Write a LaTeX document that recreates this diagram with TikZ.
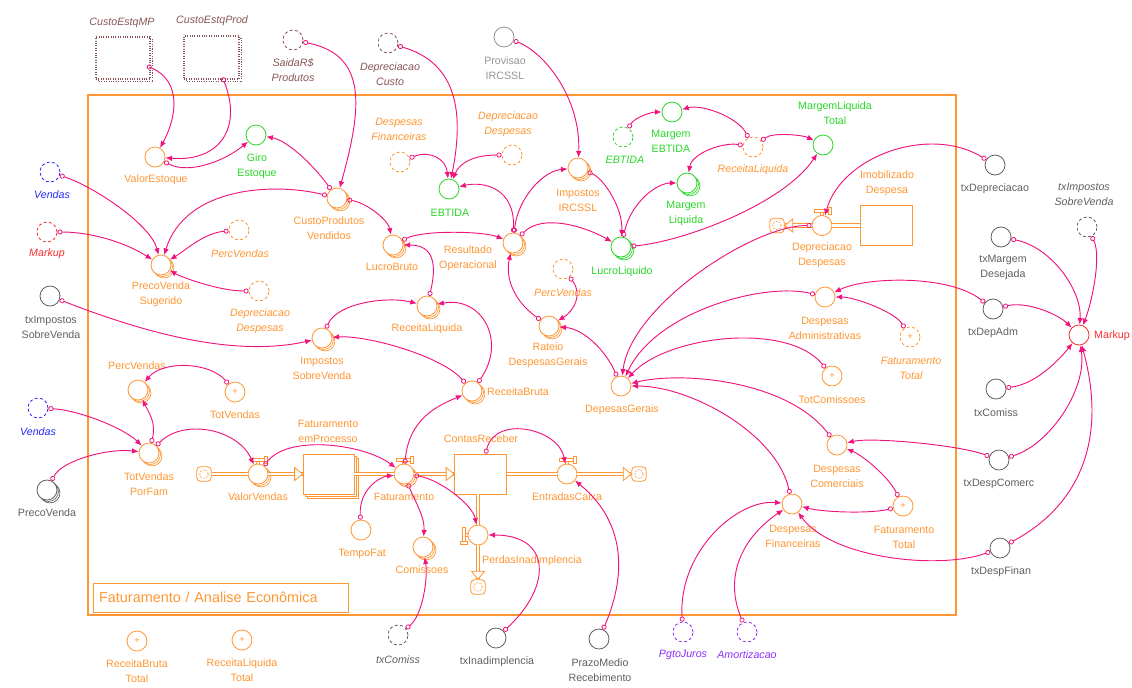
\documentclass[tikz,border=0pt]{standalone}
\usepackage{fontspec}
\setmainfont{Liberation Sans}
\usetikzlibrary{arrows.meta,shadows,calc}
\definecolor{orc}{RGB}{255,150,50}
\definecolor{grc}{RGB}{40,215,40}
\definecolor{lnk}{RGB}{240,20,125}
\definecolor{gyc}{RGB}{95,95,95}
\definecolor{lgy}{RGB}{150,150,150}
\definecolor{brc}{RGB}{135,85,85}
\definecolor{blc}{RGB}{40,40,250}
\definecolor{rdc}{RGB}{250,45,45}
\definecolor{ppc}{RGB}{140,45,250}
\newcommand{\lblfont}{\fontsize{8}{11.25}\selectfont}
% cap drawn on top of a horizontal flow valve
\newcommand{\valvecap}[1]{%
  \draw[orc, line width=0.5pt] ($(#1.center)+(-1.5,-10)$) -- ++(0,-3) ($(#1.center)+(1.5,-10)$) -- ++(0,-3);
  \draw[orc, line width=0.5pt, fill=white] ($(#1.center)+(-8,-16)$) rectangle ($(#1.center)+(6,-13)$);
  \draw[orc, line width=0.5pt, fill=white] ($(#1.center)+(6,-18)$) rectangle ($(#1.center)+(9,-11)$);}
\tikzset{
  var/.style={circle, draw=#1, fill=white, minimum size=15pt, inner sep=0pt, line width=0.6pt},
  ghost/.style={var=#1, dash pattern=on 2.2pt off 1.8pt},
  multi/.style={copy shadow={shadow xshift=2.2pt, shadow yshift=-2.2pt, draw=#1, fill=white, line width=0.5pt},
                copy shadow={shadow xshift=1.1pt, shadow yshift=-1.1pt, draw=#1, fill=white, line width=0.5pt}},
  plus/.style={text=#1, font=\fontsize{7}{7}\selectfont},
  lab/.style={text=#1, font=\lblfont, align=center, inner sep=0pt},
  ilab/.style={lab=#1, font=\lblfont\itshape},
  lk/.style={draw=lnk, line width=0.7pt, {Circle[open, length=3.8pt, width=3.8pt, line width=0.6pt]}-{Latex[length=5pt, width=4.2pt]}},
  pipe/.style={draw=orc, double=white, double distance=2.2pt, line width=0.55pt},
  pipehead/.style={draw=orc, fill=white, line width=0.6pt},
  stock/.style={rectangle, draw=orc, fill=white, line width=0.6pt, inner sep=0pt},
  mstock/.style={copy shadow={shadow xshift=3pt, shadow yshift=-3pt, draw=orc, fill=white, line width=0.5pt},
                 copy shadow={shadow xshift=1.5pt, shadow yshift=-1.5pt, draw=orc, fill=white, line width=0.5pt}},
  dotbox/.style={rectangle, draw=brc, densely dotted, fill=white, line width=0.8pt, inner sep=0pt,
                 copy shadow={shadow xshift=2.2pt, shadow yshift=-2.2pt, draw=brc, fill=white, densely dotted, line width=0.8pt}},
  sink/.style={rectangle, draw=orc, fill=white, rounded corners=3pt, minimum size=11pt, inner sep=0pt, line width=0.6pt,
               path picture={\draw[orc, line width=0.5pt, dash pattern=on 1.3pt off 1pt] (path picture bounding box.center) circle (3.2pt);}},
}
\begin{document}
\begin{tikzpicture}[x=0.75pt,y=-0.75pt]
\useasboundingbox (0,0) rectangle (1132,687);

% sector frame and its title
\draw[orc, line width=0.8pt] (88,95) rectangle (956,615);
\node[draw=orc, line width=0.6pt, minimum width=191.25pt, minimum height=21.75pt, text width=182pt, inner xsep=4.5pt,
      align=left, text=orc, font=\fontsize{10.8}{12}\selectfont] (title) at (220.5,597.5) {Faturamento / Analise Econômica};

% inventory cost levels from another view
\node[dotbox, minimum width=40.5pt, minimum height=31.5pt] (cemp) at (123,58) {};
\node[ilab=brc] (cemp-l) at (122,23) {CustoEstqMP};
\node[dotbox, minimum width=41.25pt, minimum height=32.25pt] (cepr) at (211.5,57.5) {};
\node[ilab=brc] (cepr-l) at (212,21) {CustoEstqProd};
\node[ghost=brc] (saida) at (293,40) {};
\node[ilab=brc] (saida-l) at (293,70.5) {SaidaR\$\\Produtos};
\node[ghost=brc] (depcusto) at (388,43) {};
\node[ilab=brc] (depcusto-l) at (390,74.5) {Depreciacao\\Custo};
\node[var=lgy] (prov) at (504,37) {};
\node[lab=lgy] (prov-l) at (505,68.5) {Provisao\\IRCSSL};

% stock value, sales price
\node[var=orc] (valest) at (155,157) {};
\node[lab=orc] (valest-l) at (156,180) {ValorEstoque};
\node[var=grc] (giro) at (256,135) {};
\node[lab=grc] (giro-l) at (257,166.5) {Giro\\Estoque};
\node[var=orc, multi=orc] (cpv) at (337,198) {};
\node[lab=orc] (cpv-l) at (329,228) {CustoProdutos\\Vendidos};
\node[var=orc, multi=orc] (pvs) at (161,265) {};
\node[lab=orc] (pvs-l) at (161,294.5) {PrecoVenda\\Sugerido};
\node[ghost=orc] (percv1) at (239,230) {};
\node[ilab=orc] (percv1-l) at (240,254) {PercVendas};
\node[ghost=orc] (deprd1) at (259,291) {};
\node[ilab=orc] (deprd1-l) at (260,321) {Depreciacao\\Despesas};
\node[ghost=blc] (vendas1) at (50,172) {};
\node[ilab=blc] (vendas1-l) at (52,195) {Vendas};
\node[ghost=rdc] (markup1) at (47,232) {};
\node[ilab=rdc] (markup1-l) at (47,254) {Markup};
\node[var=gyc] (txisv1) at (50,296) {};
\node[lab=gyc] (txisv1-l) at (51,327.5) {txImpostos\\SobreVenda};

% results
\node[var=orc, multi=orc] (lb) at (393,245) {};
\node[lab=orc] (lb-l) at (392,266.5) {LucroBruto};
\node[var=orc, multi=orc] (ro) at (513,243) {};
\node[lab=orc] (ro-l) at (468,258.5) {Resultado\\Operacional};
\node[var=grc] (ebtida) at (449,189) {};
\node[lab=grc] (ebtida-l) at (450,213) {EBTIDA};
\node[ghost=orc] (despfin1) at (400,162) {};
\node[ilab=orc] (despfin1-l) at (399,129) {Despesas\\Financeiras};
\node[ghost=orc] (deprd2) at (512,155) {};
\node[ilab=orc] (deprd2-l) at (508,124) {Depreciacao\\Despesas};
\node[var=orc, multi=orc] (ircssl) at (578,168) {};
\node[lab=orc] (ircssl-l) at (578,200) {Impostos\\IRCSSL};
\node[ghost=grc] (ebtida2) at (623,137) {};
\node[ilab=grc] (ebtida2-l) at (625,160) {EBTIDA};
\node[var=grc] (mebtida) at (672,112) {};
\node[lab=grc] (mebtida-l) at (671,141.5) {Margem\\EBTIDA};
\node[var=grc, multi=grc] (mliq) at (687,183) {};
\node[lab=grc] (mliq-l) at (686,213.5) {Margem\\Liquida};
\node[ghost=orc] (recliq1) at (753,147) {};
\node[ilab=orc] (recliq1-l) at (753,169.5) {ReceitaLiquida};
\node[var=grc] (mltot) at (823,145) {};
\node[lab=grc] (mltot-l) at (835,113.5) {MargemLiquida\\Total};
\node[var=grc, multi=grc] (ll) at (621,247) {};
\node[lab=grc] (ll-l) at (622,272) {LucroLiquido};

% depreciation of fixed assets
\node[var=orc] (deprdv) at (822,225.5) {};
\node[lab=orc] (deprdv-l) at (822,255) {Depreciacao\\Despesas};
\node[stock, minimum width=39pt, minimum height=30pt] (imob) at (886,225.5) {};
\node[lab=orc] (imob-l) at (887,183) {Imobilizado\\Despesa};
\node[sink] (snk3) at (777,225.5) {};

% expenses
\node[var=orc] (despadm) at (825,297) {};
\node[lab=orc] (despadm-l) at (825,328.5) {Despesas\\Administrativas};
\node[ghost=orc, plus=orc] (fattot1) at (910,337) {+};
\node[ilab=orc] (fattot1-l) at (911,368.5) {Faturamento\\Total};
\node[var=orc, plus=orc] (totcom) at (832,376) {+};
\node[lab=orc] (totcom-l) at (832,399.5) {TotComissoes};
\node[var=orc] (depger) at (621,386) {};
\node[lab=orc] (depger-l) at (622,410) {DepesasGerais};
\node[var=orc, multi=orc] (rateio) at (549,326) {};
\node[lab=orc] (rateio-l) at (548,355.5) {Rateio\\DespesasGerais};
\node[ghost=orc] (percv2) at (563,269) {};
\node[ilab=orc] (percv2-l) at (563,293) {PercVendas};
\node[var=orc] (despcom) at (837,445) {};
\node[lab=orc] (despcom-l) at (837,476.5) {Despesas\\Comerciais};
\node[var=orc, plus=orc] (fattot2) at (903,506) {+};
\node[lab=orc] (fattot2-l) at (904,537) {Faturamento\\Total};
\node[var=orc] (despfin2) at (792,504) {};
\node[lab=orc] (despfin2-l) at (793,536) {Despesas\\Financeiras};

% revenue
\node[var=orc, multi=orc] (rl) at (427,306) {};
\node[lab=orc] (rl-l) at (427,329) {ReceitaLiquida};
\node[var=orc, multi=orc] (rb) at (472,391) {};
\node[lab=orc] (rb-l) at (518,392) {ReceitaBruta};
\node[var=orc, multi=orc] (isv) at (322,338) {};
\node[lab=orc] (isv-l) at (322,368.5) {Impostos\\SobreVenda};
\node[var=orc, multi=orc] (percv3) at (138,390) {};
\node[lab=orc] (percv3-l) at (137,366) {PercVendas};
\node[var=orc, plus=orc] (totv) at (235,392) {+};
\node[lab=orc] (totv-l) at (235,415) {TotVendas};
\node[ghost=blc] (vendas2) at (38,408) {};
\node[ilab=blc] (vendas2-l) at (38,432) {Vendas};
\node[var=orc, multi=orc] (tvpf) at (149,453) {};
\node[lab=orc] (tvpf-l) at (149,484.5) {TotVendas\\PorFam};
\node[var=gyc, multi=gyc] (pv) at (47,490) {};
\node[lab=gyc] (pv-l) at (47,513) {PrecoVenda};

% billing chain
\node[sink] (snk1) at (204,474) {};
\node[var=orc, multi=orc] (vv) at (258,474) {};
\node[lab=orc] (vv-l) at (258,497) {ValorVendas};
\node[stock, mstock, minimum width=38.25pt, minimum height=30pt] (fep) at (328.5,474) {};
\node[lab=orc] (fep-l) at (328,431.5) {Faturamento\\emProcesso};
\node[var=orc, multi=orc] (fat) at (404,474) {};
\node[lab=orc] (fat-l) at (404,497) {Faturamento};
\node[stock, minimum width=39pt, minimum height=30pt] (cr) at (480.5,474) {};
\node[lab=orc] (cr-l) at (481,439) {ContasReceber};
\node[var=orc] (ec) at (567,474) {};
\node[lab=orc] (ec-l) at (567,497) {EntradasCaixa};
\node[sink] (snk2) at (639,474) {};
\node[var=orc] (pi) at (478,535) {};
\node[lab=orc] (pi-l) at (532,561) {PerdasInadimplencia};
\node[sink] (snk4) at (478,587) {};
\node[var=orc] (tempofat) at (361,530) {};
\node[lab=orc] (tempofat-l) at (362,553.5) {TempoFat};
\node[var=orc, multi=orc] (comis) at (423,547) {};
\node[lab=orc] (comis-l) at (422,569.5) {Comissoes};

% below the frame
\node[var=orc, plus=orc] (rbt) at (137,641) {+};
\node[lab=orc] (rbt-l) at (137,671.5) {ReceitaBruta\\Total};
\node[var=orc, plus=orc] (rlt) at (242,640) {+};
\node[lab=orc] (rlt-l) at (242,670.5) {ReceitaLiquida\\Total};
\node[ghost=gyc] (txcom1) at (398,635) {};
\node[ilab=gyc] (txcom1-l) at (398,659.5) {txComiss};
\node[var=gyc] (txinad) at (496,638) {};
\node[lab=gyc] (txinad-l) at (497,661.5) {txInadimplencia};
\node[var=gyc] (pmr) at (599,639) {};
\node[lab=gyc] (pmr-l) at (600,670.5) {PrazoMedio\\Recebimento};
\node[ghost=ppc] (pgto) at (683,632) {};
\node[ilab=ppc] (pgto-l) at (683,654.5) {PgtoJuros};
\node[ghost=ppc] (amort) at (747,632) {};
\node[ilab=ppc] (amort-l) at (747,654.5) {Amortizacao};

% rates on the right
\node[var=gyc] (txdep) at (995,165) {};
\node[lab=gyc] (txdep-l) at (995,189) {txDepreciacao};
\node[ghost=gyc] (txisv2) at (1087,227) {};
\node[ilab=gyc] (txisv2-l) at (1084,194.5) {txImpostos\\SobreVenda};
\node[var=gyc] (txmd) at (1001,237) {};
\node[lab=gyc] (txmd-l) at (1003,267) {txMargem\\Desejada};
\node[var=gyc] (txda) at (993,309) {};
\node[lab=gyc] (txda-l) at (993,332.5) {txDepAdm};
\node[var=rdc] (markup2) at (1079,335) {};
\node[lab=rdc] (markup2-l) at (1112,336) {Markup};
\node[var=gyc] (txcom2) at (996,389) {};
\node[lab=gyc] (txcom2-l) at (996,412.5) {txComiss};
\node[var=gyc] (txdc) at (999,460) {};
\node[lab=gyc] (txdc-l) at (999,484) {txDespComerc};
\node[var=gyc] (txdf) at (1000,548) {};
\node[lab=gyc] (txdf-l) at (1001,572) {txDespFinan};

% flow pipes
\draw[pipe] (snk1) -- (vv);
\draw[pipe] (vv) -- (fep);
\draw[pipehead] (fep.west) -- ++(-8,-6.5) -- ++(0,13) -- cycle;
\draw[pipe] (fep) -- (fat);
\draw[pipe] (fat) -- (cr);
\draw[pipehead] (cr.west) -- ++(-8,-6.5) -- ++(0,13) -- cycle;
\draw[pipe] (cr) -- (ec);
\draw[pipe] (ec) -- (snk2);
\draw[pipehead] (snk2.west) -- ++(-8,-6.5) -- ++(0,13) -- cycle;
\draw[pipe] (pi |- cr.south) -- (pi);
\draw[pipe] (pi) -- (snk4);
\draw[pipehead] (snk4.north) -- ++(-6.5,-8) -- ++(13,0) -- cycle;
\draw[pipe] (imob) -- (deprdv);
\draw[pipe] (deprdv) -- (snk3);
\draw[pipehead] (snk3.east) -- ++(8,-6.5) -- ++(0,13) -- cycle;

% valve caps
\valvecap{vv}
\valvecap{fat}
\valvecap{ec}
\valvecap{deprdv}
\draw[orc, line width=0.5pt] ($(pi.center)+(-10,-1.5)$) -- ++(-3,0) ($(pi.center)+(-10,1.5)$) -- ++(-3,0);
\draw[orc, line width=0.5pt, fill=white] ($(pi.center)+(-16,-8)$) rectangle ($(pi.center)+(-13,6)$);
\draw[orc, line width=0.5pt, fill=white] ($(pi.center)+(-18,6)$) rectangle ($(pi.center)+(-11,9)$);

% causal links
\draw[lk] ($(cemp.center)+(24,8)$) .. controls +(35,15) and +(22,-40) .. (valest);
\draw[lk] ($(cepr.center)+(11,20)$) .. controls +(20,50) and +(65,5) .. (valest);
\draw[lk] (valest) .. controls +(35,18) and +(-30,25) .. (giro);
\draw[lk] (cpv) .. controls +(-25,-35) and +(30,5) .. (giro);
\draw[lk] (saida) .. controls +(75,15) and +(25,-90) .. (cpv);
\draw[lk] (cpv) .. controls +(-60,-15) and +(25,-80) .. (pvs);
\draw[lk] (vendas1) .. controls +(45,15) and +(-10,-40) .. (pvs);
\draw[lk] (markup1) .. controls +(40,0) and +(-40,-25) .. (pvs);
\draw[lk] (percv1) .. controls +(-35,3) and +(25,-15) .. (pvs);
\draw[lk] (deprd1) .. controls +(-40,0) and +(20,12) .. (pvs);
\draw[lk] (cpv) .. controls +(30,5) and +(-5,-25) .. (lb);
\draw[lk] (lb) .. controls +(30,-15) and +(-30,-12) .. (ro);
\draw[lk] (rl) .. controls +(12,-50) and +(35,0) .. (lb);
\draw[lk] (despfin1) .. controls +(30,-12) and +(-3,-30) .. (ebtida);
\draw[lk] (deprd2) .. controls +(-40,0) and +(10,-25) .. (ebtida);
\draw[lk] (depcusto) .. controls +(70,20) and +(15,-75) .. (ebtida);
\draw[lk] (ro) .. controls +(2,-55) and +(35,-8) .. (ebtida);
\draw[lk] (prov) .. controls +(40,15) and +(3,-70) .. (ircssl);
\draw[lk] (ro) .. controls +(5,-45) and +(-35,3) .. (ircssl);
\draw[lk] (ircssl) .. controls +(25,10) and +(2,-40) .. (ll);
\draw[lk] (ro) .. controls +(30,-30) and +(-35,-20) .. (ll);
\draw[lk] (rateio) .. controls +(-35,-25) and +(-8,35) .. (ro);
\draw[lk] (percv2) .. controls +(20,25) and +(25,-15) .. (rateio);
\draw[lk] (depger) .. controls +(-15,-35) and +(35,3) .. (rateio);
\draw[lk] (rb) .. controls +(-30,-35) and +(45,-3) .. (isv);
\draw[lk] (isv) .. controls +(15,-35) and +(-40,-10) .. (rl);
\draw[lk] (rb) .. controls +(35,-50) and +(55,-10) .. (rl);
\draw[lk] (fat) .. controls +(5,-55) and +(-35,15) .. (rb);
\draw[lk] (txisv1) .. controls +(90,35) and +(-90,20) .. (isv);
\draw[lk] (totv) .. controls +(-25,-30) and +(25,-30) .. (percv3);
\draw[lk] (tvpf) .. controls +(7,-30) and +(12,25) .. (percv3);
\draw[lk] (vendas2) .. controls +(40,2) and +(-25,-25) .. (tvpf);
\draw[lk] (pv) .. controls +(15,-30) and +(-40,-5) .. (tvpf);
\draw[lk] (tvpf) .. controls +(35,-35) and +(-20,-45) .. (vv);
\draw[lk] (vv) .. controls +(30,-40) and +(-40,-30) .. (fat);
\draw[lk] (tempofat) .. controls +(-2,-40) and +(-25,3) .. (fat);
\draw[lk] (fat) .. controls +(10,25) and +(2,-30) .. (comis);
\draw[lk] (fat) .. controls +(35,5) and +(-5,-30) .. (pi);
\draw[lk] (cr) .. controls +(15,-60) and +(-8,-45) .. (ec);
\draw[lk] (pmr) .. controls +(30,-70) and +(55,45) .. (ec);
\draw[lk] (txinad) .. controls +(55,-50) and +(75,0) .. (pi);
\draw[lk] (txcom1) .. controls +(25,-20) and +(5,30) .. (comis);
\draw[lk] (pgto) .. controls +(-5,-80) and +(-55,-5) .. (despfin2);
\draw[lk] (amort) .. controls +(-25,-60) and +(-45,30) .. (despfin2);
\draw[lk] (fattot2) .. controls +(-35,8) and +(30,8) .. (despfin2);
\draw[lk] (fattot2) .. controls +(-15,-30) and +(25,10) .. (despcom);
\draw[lk] (txdf) .. controls +(-60,22) and +(40,55) .. (despfin2);
\draw[lk] (txdf) .. controls +(75,-40) and +(30,110) .. (markup2);
\draw[lk] (despfin2) .. controls +(-15,-70) and +(70,0) .. (depger);
\draw[lk] (despcom) .. controls +(-50,-65) and +(60,-15) .. (depger);
\draw[lk] (totcom) .. controls +(-45,-55) and +(45,-50) .. (depger);
\draw[lk] (despadm) .. controls +(-60,-15) and +(35,-75) .. (depger);
\draw[lk] (deprdv) .. controls +(-70,0) and +(10,-80) .. (depger);
\draw[lk] (txdep) .. controls +(-65,-40) and +(20,-70) .. (deprdv);
\draw[lk] (ll) .. controls +(60,-5) and +(-40,60) .. (mltot);
\draw[lk] (recliq1) .. controls +(20,-15) and +(-20,-10) .. (mltot);
\draw[lk] (recliq1) .. controls +(-15,-30) and +(30,-8) .. (mebtida);
\draw[lk] (recliq1) .. controls +(-30,-5) and +(5,-30) .. (mliq);
\draw[lk] (ebtida2) .. controls +(12,-20) and +(-20,0) .. (mebtida);
\draw[lk] (ll) .. controls +(10,-45) and +(-30,0) .. (mliq);
\draw[lk] (txda) .. controls +(-45,-35) and +(40,-20) .. (despadm);
\draw[lk] (fattot1) .. controls +(-15,-25) and +(30,0) .. (despadm);
\draw[lk] (txda) .. controls +(35,-8) and +(-20,-20) .. (markup2);
\draw[lk] (txmd) .. controls +(50,10) and +(3,-45) .. (markup2);
\draw[lk] (txisv2) .. controls +(15,30) and +(12,-30) .. (markup2);
\draw[lk] (txcom2) .. controls +(40,-5) and +(-20,25) .. (markup2);
\draw[lk] (txdc) .. controls +(50,-15) and +(8,55) .. (markup2);
\draw[lk] (txdc) .. controls +(-40,-15) and +(35,-8) .. (despcom);
\end{tikzpicture}
\end{document}
